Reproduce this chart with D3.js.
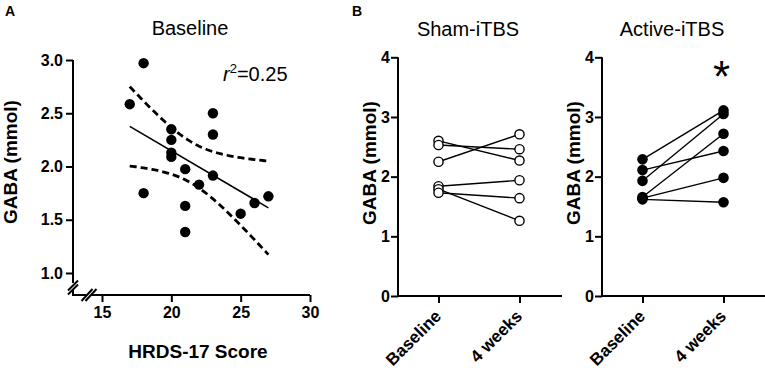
<!DOCTYPE html>
<html>
<head>
<meta charset="utf-8">
<script src="https://cdn.jsdelivr.net/npm/d3@7"></script>
<style>
body{margin:0;background:#fff}
text{font-family:"Liberation Sans",Arial,Helvetica,sans-serif}
</style>
</head>
<body>
<svg id="fig" width="765" height="375"></svg>
<script>
// Panel A: HRDS-17 score vs baseline GABA
const hrdsScore   = [17, 18, 18, 20, 20, 20, 20, 21, 21, 21, 22, 23, 23, 23, 25, 26, 27];
const gabaBase    = [2.585, 2.97, 1.75, 2.35, 2.25, 2.13, 2.09, 1.975, 1.63, 1.385, 1.83, 2.5, 2.3, 1.915, 1.557, 1.657, 1.72];
const xTicksA = [15, 20, 25, 30];
const yTicksA = [1.0, 1.5, 2.0, 2.5, 3.0];

// Panel B: paired values per subject
const timepoints = ["Baseline", "4 weeks"];
const shamBaseline   = [2.60, 2.53, 2.25, 1.84, 1.79, 1.73];
const shamWeek4      = [2.27, 2.46, 2.71, 1.94, 1.26, 1.64];
const activeBaseline = [2.29, 2.11, 1.93, 1.66, 1.64, 1.62];
const activeWeek4    = [3.11, 2.43, 3.05, 2.72, 1.98, 1.57];
const yTicksB = [0, 1, 2, 3, 4];

const FONT = '"Liberation Sans",Arial,Helvetica,sans-serif';
const svg = d3.select("#fig");

function styleAxis(g, size){
    g.select(".domain").remove();
    g.attr("font-family", FONT);
    g.selectAll(".tick line").attr("stroke", "#000").attr("stroke-width", 2);
    g.selectAll(".tick text").attr("fill", "#000")
        .attr("font-size", size).attr("font-weight", "bold");
}

// ---------- panel A ----------
const xA = d3.scaleLinear().domain([15, 30]).range([102, 310]);
const yA = d3.scaleLinear().domain([1, 3]).range([273, 60]);
const gA = svg.append("g");
const axisX0 = 73, axisY0 = 295;

gA.append("g").attr("transform", `translate(${axisX0},0)`)
    .call(d3.axisLeft(yA).tickValues(yTicksA).tickFormat(d3.format(".1f")).tickSize(7).tickPadding(3))
    .call(g => styleAxis(g, 16));
gA.append("g").attr("transform", `translate(0,${axisY0})`)
    .call(d3.axisBottom(xA).tickValues(xTicksA).tickSize(7).tickPadding(5))
    .call(g => styleAxis(g, 16));

// axis lines with the break
const axPath = [
    [[axisX0, yA(3)], [axisX0, 283]],
    [[axisX0, 290], [axisX0, axisY0], [86, axisY0]],
    [[91, axisY0], [xA(30), axisY0]],
    [[68, 290.5], [78, 280.5]],
    [[68, 294.5], [78, 284.5]],
    [[81.5, 301], [92.5, 289]],
    [[85.5, 301], [96.5, 289]]
];
gA.selectAll("path.ax").data(axPath).join("path")
    .attr("class", "ax")
    .attr("d", d3.line())
    .attr("fill", "none").attr("stroke", "#000").attr("stroke-width", 2);

// linear fit + 95% confidence band
const n = hrdsScore.length;
const mx = d3.mean(hrdsScore), my = d3.mean(gabaBase);
let sxx = 0, sxy = 0, syy = 0;
hrdsScore.forEach((x, i) => {
    sxx += (x - mx) ** 2;
    sxy += (x - mx) * (gabaBase[i] - my);
    syy += (gabaBase[i] - my) ** 2;
});
const slope = sxy / sxx, icpt = my - slope * mx;
const sres = Math.sqrt((syy - sxy * sxy / sxx) / (n - 2));
const tCrit = 2.131; // t(0.975, df=15)
const xMin = d3.min(hrdsScore), xMax = d3.max(hrdsScore);
const band = d3.range(xMin, xMax + 0.001, 0.2).map(x => {
    const fit = icpt + slope * x;
    const hw = tCrit * sres * Math.sqrt(1 / n + (x - mx) ** 2 / sxx);
    return {x, lo: fit - hw, hi: fit + hw};
});

gA.append("path")
    .attr("d", d3.line()([[xA(xMin), yA(icpt + slope * xMin)], [xA(xMax), yA(icpt + slope * xMax)]]))
    .attr("stroke", "#000").attr("stroke-width", 1.6).attr("fill", "none");
["hi", "lo"].forEach(k => {
    gA.append("path")
        .attr("d", d3.line().x(d => xA(d.x)).y(d => yA(d[k]))(band))
        .attr("stroke", "#000").attr("stroke-width", 2.8)
        .attr("stroke-dasharray", "7,4").attr("fill", "none");
});

gA.selectAll("circle").data(hrdsScore).join("circle")
    .attr("cx", d => xA(d)).attr("cy", (d, i) => yA(gabaBase[i]))
    .attr("r", 5.2).attr("fill", "#000");

gA.append("text").attr("x", 5).attr("y", 16)
    .attr("font-size", 14).attr("font-weight", "bold").text("A");
gA.append("text").attr("x", 190).attr("y", 35).attr("text-anchor", "middle")
    .attr("font-size", 20).text("Baseline");
const r2 = gA.append("text").attr("x", 223).attr("y", 81).attr("font-size", 20);
r2.append("tspan").attr("font-style", "italic").text("r");
r2.append("tspan").attr("font-size", 13).attr("dy", -8).text("2");
r2.append("tspan").attr("dy", 8).text("=0.25");
gA.append("text").attr("x", 198).attr("y", 358).attr("text-anchor", "middle")
    .attr("font-size", 19).attr("font-weight", "bold").text("HRDS-17 Score");
gA.append("text").attr("transform", "translate(17,162) rotate(-90)").attr("text-anchor", "middle")
    .attr("font-size", 19).attr("font-weight", "bold").text("GABA (mmol)");

// ---------- panel B ----------
const yB = d3.scaleLinear().domain([0, 4]).range([296, 57.3]);

function drawPaired(ax, title, base, week, filled, star){
    const g = svg.append("g");
    const x = d3.scalePoint().domain(timepoints).range([ax, ax + 162]).padding(0.5);

    g.append("g").attr("transform", `translate(${ax},0)`)
        .call(d3.axisLeft(yB).tickValues(yTicksB).tickFormat(d3.format("d")).tickSize(7).tickPadding(1))
        .call(gg => styleAxis(gg, 16));
    g.append("g").attr("transform", `translate(0,${yB(0)})`)
        .call(d3.axisBottom(x).tickSize(7).tickPadding(3))
        .call(gg => styleAxis(gg, 17))
        .call(gg => gg.selectAll(".tick text")
            .attr("text-anchor", "end").attr("dy", "0.35em")
            .attr("transform", "translate(-8,10) rotate(-45)"));
    g.append("path")
        .attr("d", d3.line()([[ax, yB(4)], [ax, yB(0)], [ax + 164, yB(0)]]))
        .attr("fill", "none").attr("stroke", "#000").attr("stroke-width", 2);

    const pairs = base.map((b, i) => [b, week[i]]);
    g.selectAll("line.pair").data(pairs).join("line")
        .attr("class", "pair")
        .attr("x1", x(timepoints[0])).attr("x2", x(timepoints[1]))
        .attr("y1", d => yB(d[0])).attr("y2", d => yB(d[1]))
        .attr("stroke", "#000").attr("stroke-width", 1.4);
    const pts = pairs.flatMap(d => [[timepoints[0], d[0]], [timepoints[1], d[1]]]);
    g.selectAll("circle").data(pts).join("circle")
        .attr("cx", d => x(d[0])).attr("cy", d => yB(d[1]))
        .attr("r", filled ? 5.3 : 4.6)
        .attr("fill", filled ? "#000" : "#fff")
        .attr("stroke", "#000").attr("stroke-width", filled ? 0 : 1.4);

    g.append("text").attr("x", ax + 70).attr("y", 36).attr("text-anchor", "middle")
        .attr("font-size", 20).text(title);
    g.append("text").attr("transform", `translate(${ax - 22},163) rotate(-90)`)
        .attr("text-anchor", "middle").attr("font-size", 19).attr("font-weight", "bold")
        .text("GABA (mmol)");
    if (star) {
        g.append("text").attr("x", x(timepoints[1]) - 2).attr("y", 92).attr("text-anchor", "middle")
            .attr("font-size", 44).text("*");
    }
    return g;
}

drawPaired(398, "Sham-iTBS", shamBaseline, shamWeek4, false, false);
drawPaired(602, "Active-iTBS", activeBaseline, activeWeek4, true, true);
svg.append("text").attr("x", 352).attr("y", 16)
    .attr("font-size", 14).attr("font-weight", "bold").text("B");
</script>
</body>
</html>
